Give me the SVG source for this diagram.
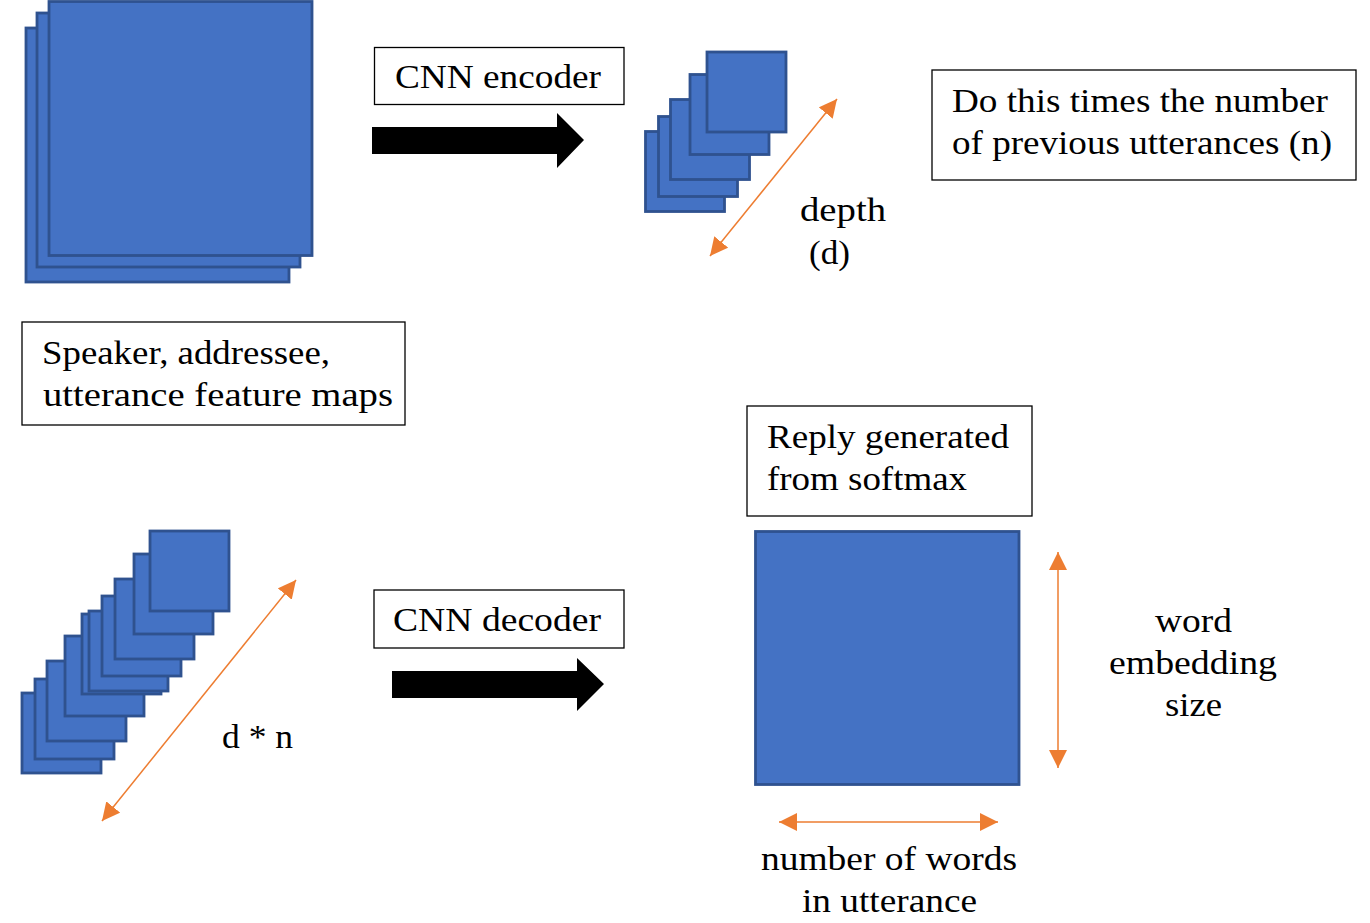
<svg xmlns="http://www.w3.org/2000/svg" width="1370" height="923" viewBox="0 0 1370 923">
  <style>
    .sq { fill: #4472C4; stroke: #2F528F; stroke-width: 2.8; }
    .box { fill: #FFFFFF; stroke: #000000; stroke-width: 1.3; }
    .t { font-family: "Liberation Serif", "Times New Roman", serif; font-size: 33px; fill: #000000; }
    .dim { stroke: #ED7D31; stroke-width: 1.5; fill: none; marker-start: url(#oh); marker-end: url(#oh); }
    .blk { fill: #000000; }
  </style>
  <defs>
    <marker id="oh" markerUnits="userSpaceOnUse" markerWidth="18" markerHeight="18" viewBox="0 0 16 16" refX="16" refY="8" orient="auto-start-reverse">
      <path d="M0,0 L16,8 L0,16 Z" fill="#ED7D31"/>
    </marker>
  </defs>
  <rect width="1370" height="923" fill="#FFFFFF"/>

  <g id="input-maps">
    <rect class="sq" x="26" y="28" width="263" height="254"/>
    <rect class="sq" x="37" y="13" width="263" height="254"/>
    <rect class="sq" x="49" y="1.5" width="263" height="254"/>
  </g>

  <g id="encoded-stack">
    <rect class="sq" x="645.5" y="131.5" width="79" height="80"/>
    <rect class="sq" x="658.5" y="116.5" width="79" height="80"/>
    <rect class="sq" x="670.5" y="99.5" width="79" height="80"/>
    <rect class="sq" x="690" y="74.5" width="79" height="80"/>
    <rect class="sq" x="707" y="52" width="79" height="80"/>
  </g>

  <g id="combined-stack">
    <rect class="sq" x="22" y="693" width="79" height="80"/>
    <rect class="sq" x="35" y="679" width="79" height="80"/>
    <rect class="sq" x="47" y="661" width="79" height="80"/>
    <rect class="sq" x="65" y="636" width="79" height="80"/>
    <rect class="sq" x="82" y="614" width="79" height="80"/>
    <rect class="sq" x="89" y="611" width="79" height="80"/>
    <rect class="sq" x="102" y="596" width="79" height="80"/>
    <rect class="sq" x="115" y="579" width="79" height="80"/>
    <rect class="sq" x="134" y="554" width="79" height="80"/>
    <rect class="sq" x="150" y="531" width="79" height="80"/>
  </g>

  <g id="reply-matrix">
    <rect class="sq" x="755.5" y="531.5" width="263.5" height="253"/>
  </g>

  <g id="label-encoder">
    <rect class="box" x="374.5" y="47.5" width="249.5" height="57"/>
    <text class="t" x="395" y="88" textLength="206" lengthAdjust="spacingAndGlyphs">CNN encoder</text>
  </g>

  <g id="label-decoder">
    <rect class="box" x="374" y="590" width="250" height="58"/>
    <text class="t" x="393" y="631" textLength="208" lengthAdjust="spacingAndGlyphs">CNN decoder</text>
  </g>

  <g id="label-repeat">
    <rect class="box" x="932" y="70" width="424" height="110"/>
    <text class="t" x="952" y="112" textLength="376" lengthAdjust="spacingAndGlyphs">Do this times the number</text>
    <text class="t" x="952" y="154" textLength="380" lengthAdjust="spacingAndGlyphs">of previous utterances (n)</text>
  </g>

  <g id="label-input">
    <rect class="box" x="22" y="322" width="383" height="103"/>
    <text class="t" x="42" y="364" textLength="288" lengthAdjust="spacingAndGlyphs">Speaker, addressee,</text>
    <text class="t" x="43" y="406" textLength="350" lengthAdjust="spacingAndGlyphs">utterance feature maps</text>
  </g>

  <g id="label-reply">
    <rect class="box" x="747" y="406" width="285" height="110"/>
    <text class="t" x="767" y="448" textLength="242" lengthAdjust="spacingAndGlyphs">Reply generated</text>
    <text class="t" x="767" y="490" textLength="200" lengthAdjust="spacingAndGlyphs">from softmax</text>
  </g>

  <g id="label-depth">
    <text class="t" x="800" y="221" textLength="86" lengthAdjust="spacingAndGlyphs">depth</text>
    <text class="t" x="809" y="264" textLength="41" lengthAdjust="spacingAndGlyphs">(d)</text>
  </g>

  <g id="label-dn">
    <text class="t" x="222" y="748" textLength="71" lengthAdjust="spacingAndGlyphs">d * n</text>
  </g>

  <g id="label-embedding">
    <text class="t" x="1155" y="632" textLength="77" lengthAdjust="spacingAndGlyphs">word</text>
    <text class="t" x="1109" y="674" textLength="168" lengthAdjust="spacingAndGlyphs">embedding</text>
    <text class="t" x="1165" y="716" textLength="57" lengthAdjust="spacingAndGlyphs">size</text>
  </g>

  <g id="label-words">
    <text class="t" x="761" y="870" textLength="256" lengthAdjust="spacingAndGlyphs">number of words</text>
    <text class="t" x="802" y="912" textLength="175" lengthAdjust="spacingAndGlyphs">in utterance</text>
  </g>

  <g id="connectors">
    <polygon class="blk" points="372,127 557,127 557,113 584,140 557,168 557,154 372,154"/>
    <polygon class="blk" points="392,671 577,671 577,658 604,684 577,711 577,698 392,698"/>
    <line class="dim" x1="710" y1="256" x2="837" y2="99"/>
    <line class="dim" x1="102" y1="821" x2="296" y2="580"/>
    <line class="dim" x1="1058" y1="768" x2="1058" y2="552"/>
    <line class="dim" x1="779" y1="822" x2="998" y2="822"/>
  </g>
</svg>
